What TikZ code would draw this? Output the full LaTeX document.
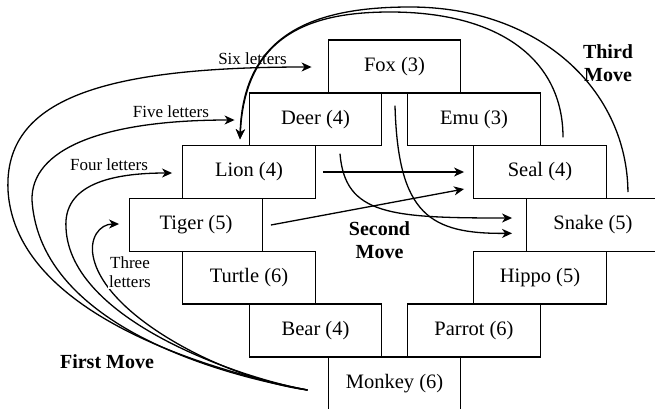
\documentclass[tikz,border=0pt]{standalone}
\usepackage{fontspec}
\setmainfont{Liberation Serif}
\usetikzlibrary{arrows.meta,calc}
\begin{document}
\begin{tikzpicture}[x=1pt,y=-1pt,
  animal/.style={draw, line width=1.4pt, minimum width=132.5pt, minimum height=52.8pt,
    inner sep=0pt, font=\fontsize{20.5}{24}\selectfont},
  hint/.style={font=\fontsize{17}{19}\selectfont, inner sep=0pt},
  movelabel/.style={font=\bfseries\fontsize{20}{22.5}\selectfont, align=center, inner sep=0pt},
  link/.style={line width=1.3pt, -{Stealth[length=10pt,width=9pt,inset=3pt]}},
  plain/.style={line width=1.3pt},
]
\path[use as bounding box] (0,0) rectangle (655,408);
\clip (0,0) rectangle (655,408);

% animal boxes, stacked like bricks
\node[animal] (fox)    at (394.5, 66.4) {Fox (3)};
\node[animal] (deer)   at (315.5,119.2) {Deer (4)};
\node[animal] (emu)    at (474,  119.2) {Emu (3)};
\node[animal] (lion)   at (249,  172.0) {Lion (4)};
\node[animal] (seal)   at (540,  172.0) {Seal (4)};
\node[animal] (tiger)  at (196,  224.8) {Tiger (5)};
\node[animal] (snake)  at (593,  224.8) {Snake (5)};
\node[animal] (turtle) at (249,  277.6) {Turtle (6)};
\node[animal] (hippo)  at (540,  277.6) {Hippo (5)};
\node[animal] (bear)   at (315.5,330.4) {Bear (4)};
\node[animal] (parrot) at (474,  330.4) {Parrot (6)};
\node[animal] (monkey) at (394.5,383.2) {Monkey (6)};

% end points of the connectors
\coordinate (m0)   at ($(monkey.west)+(-20,6.8)$);
\coordinate (to6)  at ($(fox.west)+(-16,0.6)$);
\coordinate (to5)  at ($(deer.west)+(-14,0.8)$);
\coordinate (to4)  at ($(lion.west)+(-10,1)$);
\coordinate (to3)  at ($(tiger.west)+(-10,-0.8)$);

\coordinate (lionout)  at ($(lion.east)+(7,0)$);
\coordinate (sealin1)  at ($(seal.west)+(-9,0)$);
\coordinate (tigerout) at ($(tiger.east)+(8,0.2)$);
\coordinate (sealin2)  at ($(seal.west)+(-9,17)$);
\coordinate (deerout)  at ($(deer.south)+(24.5,7.4)$);
\coordinate (snakein1) at ($(snake.west)+(-14,-6.8)$);
\coordinate (foxout)   at ($(fox.south)+(0.5,12.2)$);
\coordinate (snakein2) at ($(snake.west)+(-14,8.5)$);

\coordinate (sealtop)   at ($(seal.north)+(23,-7.6)$);
\coordinate (sealside)  at ($(seal.east)+(21,20)$);
\coordinate (lionin)    at ($(lion.north)+(-9,-5.6)$);

% first move: from Monkey round the left side
\draw[link] (m0) .. controls (230,375) and (15,320) .. (8,190)
                 .. controls (4,100) and (100,67) .. (to6);
\draw[link] (m0) .. controls (235,378) and (40,330) .. (32,200)
                 .. controls (31,150) and (100,120) .. (to5);
\draw[link] (m0) .. controls (240,378) and (70,320) .. (66,228)
                 .. controls (63,185) and (110,173) .. (to4);
\draw[link] (m0) .. controls (230,380) and (110,320) .. (94,260)
                 .. controls (88,238) and (100,224) .. (to3);

% second move: towards Seal and Snake
\draw[link] (lionout) -- (sealin1);
\draw[link] (tigerout) -- (sealin2);
\draw[link] (deerout) .. controls (345,215) and (390,218) .. (snakein1);
\draw[link] (foxout) .. controls (398,215) and (430,234) .. (snakein2);

% third move: over the top back to Lion
\draw[link] (sealside) .. controls (627,90) and (540,7) .. (410,7)
                       .. controls (320,7) and (243,30) .. (lionin);
\draw[link] (sealtop) .. controls (563,60) and (500,12) .. (390,12)
                      .. controls (310,12) and (245,35) .. (lionin);

% labels
\node[hint, anchor=base] (l6) at (252.5,64) {Six letters};
\node[hint, anchor=base] (l5) at (171,117) {Five letters};
\node[hint, anchor=base] (l4) at (109,170) {Four letters};
\node[hint, align=center, fill=white, inner sep=1.5pt] (l3) at (130,272.5) {Three\\letters};
\node[movelabel, anchor=base] (first) at (107,368) {First Move};
\node[movelabel] (second) at (379.5,240) {Second\\Move};
\node[movelabel] (third) at (608,63) {Third\\Move};
\end{tikzpicture}
\end{document}
